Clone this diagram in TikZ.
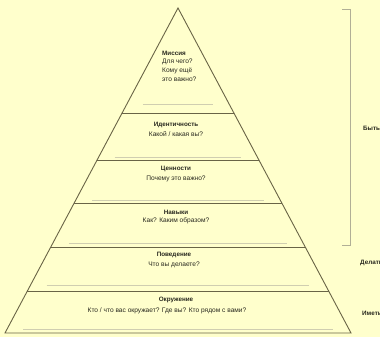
\documentclass[tikz,border=0pt]{standalone}
\usepackage{fontspec}
\setmainfont{Liberation Sans}
\usepackage{tikz}
\usetikzlibrary{calc,positioning}
\definecolor{bgcolor}{RGB}{255,255,204}
\definecolor{linecolor}{RGB}{105,100,70}
\definecolor{faintcolor}{RGB}{208,206,176}
\definecolor{textcolor}{RGB}{40,40,30}

\begin{document}
\begin{tikzpicture}[x=1pt, y=-1pt,
        edge/.style={draw=linecolor, line width=0.9pt},
        faint/.style={draw=faintcolor, line width=0.8pt},
        bracket/.style={draw=faintcolor!85!black, line width=0.7pt},
        title/.style={font=\fontsize{6.3}{8}\selectfont\bfseries, text=textcolor, inner sep=0pt},
        question/.style={font=\fontsize{6.6}{9}\selectfont, text=textcolor, inner sep=0pt, align=center},
        side/.style={font=\fontsize{6.3}{8}\selectfont\bfseries, text=textcolor, anchor=west, inner sep=0pt}
    ]
        \fill[bgcolor] (0,0) rectangle (380,337);
        \useasboundingbox (0,0) rectangle (380,337);

        \coordinate (apex) at (178,8);
        \coordinate (bl) at (5,333);
        \coordinate (br) at (351,333);
        \draw[edge, line join=miter] (bl) -- (apex) -- (br) -- cycle;

        % band dividers
        \foreach \y in {113,160,203,247,291} {
            \pgfmathsetmacro\h{0.5323*(\y-8)}
            \draw[edge] (178-\h,\y) -- (178+\h,\y);
        }
        % text box edges
        \foreach \y in {104,157,200,243,285,329} {
            \pgfmathsetmacro\h{0.5323*(\y-8)-16}
            \draw[faint] (178-\h,\y) -- (178+\h,\y);
        }

        \node[title, anchor=west] (mission) at (162,53) {Миссия};
        \node[question, align=left, anchor=north west] (missionq) at (162,58.5) {Для чего?\\Кому ещё\\это важно?};

        \node[title] (identity) at (176,125) {Идентичность};
        \node[question, below=3.5pt of identity] (identityq) {Какой / какая вы?};

        \node[title] (values) at (176,169) {Ценности};
        \node[question, below=4pt of values] (valuesq) {Почему это важно?};

        \node[title] (skills) at (176,212) {Навыки};
        \node[question, below=3.5pt of skills] (skillsq) {Как? Каким образом?};

        \node[title] (behaviour) at (174,255) {Поведение};
        \node[question, below=4pt of behaviour] (behaviourq) {Что вы делаете?};

        \node[title] (environment) at (176,300) {Окружение};
        \node[question] (environmentq) at (167,311) {Кто / что вас окружает? Где вы? Кто рядом с вами?};

        \draw[bracket] (342,9) -- (350,9) -- (350,245) -- (342,245);
        \node[side] (be) at (363,128) {Быть};
        \node[side] (do) at (360,263) {Делать};
        \node[side] (have) at (362,313) {Иметь};
    \end{tikzpicture}
\end{document}
